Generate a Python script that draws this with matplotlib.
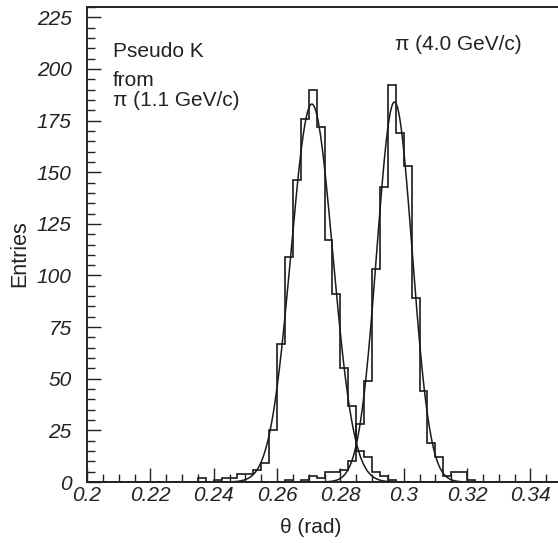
import numpy as np
import matplotlib
matplotlib.use("Agg")
import matplotlib.pyplot as plt
from matplotlib.ticker import MultipleLocator

plt.rcParams['font.family'] = ['Liberation Sans', 'DejaVu Sans']

# binning : 60 bins of 0.0025 rad between 0.2 and 0.35
bin_edges = np.round(np.arange(0.2, 0.35 + 1e-9, 0.0025), 5)

# "Pseudo K from pi (1.1 GeV/c)" histogram (counts)
counts_pseudo_k = [0] * 14 + [2, 0, 1, 2, 2, 4, 4, 6, 9, 25,
                              67, 109, 146, 176, 190, 172, 117, 91, 55, 37,
                              15, 12, 5, 3, 1] + [0] * 21

# "pi (4.0 GeV/c)" histogram
counts_pi = [0] * 25 + [1, 0, 1, 3, 2, 5, 5, 6, 10, 28,
                        49, 103, 143, 192, 169, 153, 89, 44, 19, 12,
                        3, 5, 5, 1] + [0] * 11

# gaussian fits : amplitude, mean, sigma
fit_pseudo_k = (183.0, 0.2710, 0.0066)
fit_pi = (184.0, 0.2971, 0.0056)

fig = plt.figure(figsize=(5.58, 5.43), dpi=100)
ax = fig.add_axes([87 / 558, 61 / 543, 475 / 558, 475 / 543])

ax.stairs(counts_pseudo_k, bin_edges, color='#1a1a1a', lw=1.2)
ax.stairs(counts_pi, bin_edges, color='#1a1a1a', lw=1.2)

for amp, mu, sig in (fit_pseudo_k, fit_pi):
    xx = np.linspace(mu - 4 * sig, mu + 4 * sig, 300)
    ax.plot(xx, amp * np.exp(-0.5 * ((xx - mu) / sig) ** 2), color='#1a1a1a', lw=1.1)

ax.set_xlim(0.2, 0.35)
ax.set_ylim(0, 230)

ax.xaxis.set_major_locator(MultipleLocator(0.02))
ax.xaxis.set_minor_locator(MultipleLocator(0.005))
ax.yaxis.set_major_locator(MultipleLocator(25))
ax.yaxis.set_minor_locator(MultipleLocator(5))
ax.xaxis.set_major_formatter(matplotlib.ticker.FuncFormatter(lambda v, p: ('%g' % round(v, 3))))

ax.tick_params(which='both', direction='in', top=False, right=False, width=1.0, color='#222222')
ax.tick_params(which='major', length=10)
ax.tick_params(which='minor', length=6)
ax.tick_params(axis='x', which='major', pad=3)
ax.tick_params(axis='y', which='major', pad=11)
for lab in ax.get_xticklabels() + ax.get_yticklabels():
    lab.set_fontstyle('italic')
    lab.set_fontsize(15)
    lab.set_color('#222222')

for s in ax.spines.values():
    s.set_linewidth(1.4)
    s.set_color('#222222')

ax.set_xlabel('θ (rad)', fontsize=15, color='#222222')
ax.set_ylabel('Entries', fontsize=15.5, color='#222222')
ax.xaxis.set_label_coords(0.47, -0.076)
ax.yaxis.set_label_coords(-0.12, 0.48)

ax.text(0.055, 0.907, 'Pseudo K', transform=ax.transAxes, fontsize=15, va='center', color='#222222')
ax.text(0.055, 0.845, 'from', transform=ax.transAxes, fontsize=15, va='center', color='#222222')
ax.text(0.055, 0.803, 'π (1.1 GeV/c)', transform=ax.transAxes, fontsize=15, va='center', color='#222222')
ax.text(0.648, 0.922, 'π (4.0 GeV/c)', transform=ax.transAxes, fontsize=15, va='center', color='#222222')

fig.savefig('out.png', dpi=100)
